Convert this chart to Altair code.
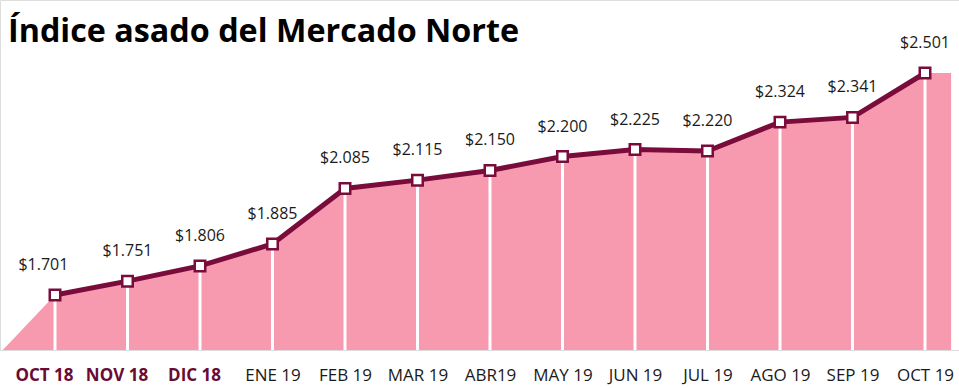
import json
import altair as alt
import pandas as pd

TITLE = "Índice asado del Mercado Norte"
MONTHS = ["OCT 18", "NOV 18", "DIC 18", "ENE 19", "FEB 19", "MAR 19", "ABR19",
          "MAY 19", "JUN 19", "JUL 19", "AGO 19", "SEP 19", "OCT 19"]
VALUES = [1701, 1751, 1806, 1885, 2085, 2115, 2150, 2200, 2225, 2220, 2324, 2341, 2501]
LABELS = ["$1.701", "$1.751", "$1.806", "$1.885", "$2.085", "$2.115", "$2.150",
          "$2.200", "$2.225", "$2.220", "$2.324", "$2.341", "$2.501"]
HIGHLIGHT_COUNT = 3  # first three month labels highlighted

Y_MIN, Y_MAX = 1503, 2764
X_MIN, X_MAX = -0.7586, 12.469
AREA_START, AREA_END = -0.72, 12.36

PINK = "#F79AB0"
MAROON = "#7A0C3C"
LABEL_MAROON = "#6B0A33"

df = pd.DataFrame({"i": list(range(len(VALUES))), "v": VALUES, "label": LABELS,
                   "month": MONTHS, "base": [Y_MIN] * len(VALUES)})
area_df = pd.concat([
    pd.DataFrame({"i": [AREA_START], "v": [Y_MIN]}),
    df[["i", "v"]],
    pd.DataFrame({"i": [AREA_END], "v": [VALUES[-1]]}),
], ignore_index=True)

xs = alt.Scale(domain=[X_MIN, X_MAX], nice=False, zero=False)
ys = alt.Scale(domain=[Y_MIN, Y_MAX], nice=False, zero=False)

label_expr = json.dumps(MONTHS) + "[datum.value]"

x_axis = alt.Axis(
    values=list(range(len(MONTHS))), labelExpr=label_expr, title=None,
    domain=False, ticks=False, grid=False, labelFont="Open Sans", labelFontSize=17,
    labelPadding=17, labelFlush=False, labelOverlap=False,
    labelColor={"condition": {"test": f"datum.value < {HIGHLIGHT_COUNT}", "value": LABEL_MAROON},
                "value": "#1a1a1a"},
    labelFontWeight={"condition": {"test": f"datum.value < {HIGHLIGHT_COUNT}", "value": "bold"},
                     "value": "normal"},
    labelOffset={"condition": [{"test": "datum.value < 2", "value": -11},
                               {"test": "datum.value == 2", "value": -6}],
                 "value": 0},
)

area = alt.Chart(area_df).mark_area(color=PINK, opacity=1).encode(
    x=alt.X("i:Q", scale=xs, axis=x_axis),
    y=alt.Y("v:Q", scale=ys, axis=None),
    y2=alt.Y2(datum=Y_MIN),
)

rules = alt.Chart(df).mark_rule(color="white", strokeWidth=3).encode(
    x=alt.X("i:Q", scale=xs),
    y=alt.Y("v:Q", scale=ys),
    y2="base:Q",
)

line = alt.Chart(df).mark_line(color=MAROON, strokeWidth=5).encode(
    x=alt.X("i:Q", scale=xs),
    y=alt.Y("v:Q", scale=ys),
)

points = alt.Chart(df).mark_point(shape="square", size=110, filled=True, fill="white",
                                   stroke=MAROON, strokeWidth=2.5, opacity=1).encode(
    x=alt.X("i:Q", scale=xs),
    y=alt.Y("v:Q", scale=ys),
)

texts = alt.Chart(df).transform_calculate(
    lx="datum.i == 0 ? datum.i - 0.16 : datum.i"
).mark_text(font="Open Sans", fontSize=16, color="#1a1a1a",
            baseline="alphabetic", dy=-25).encode(
    x=alt.X("lx:Q", scale=xs),
    y=alt.Y("v:Q", scale=ys),
    text="label:N",
)

title = alt.Chart(pd.DataFrame({"t": [TITLE]})).mark_text(
    font="Open Sans", fontSize=32.3, fontWeight="bold", color="#000000",
    align="left", baseline="alphabetic",
).encode(x=alt.value(8), y=alt.value(42), text="t:N")

chart = alt.layer(area, rules, line, points, texts, title).properties(
    width=959, height=350,
    padding={"left": 0, "top": 0, "right": 0, "bottom": 38},
    autosize=alt.AutoSizeParams(type="none"),
).configure_view(stroke=None).configure(background="white")

chart.save("out.html", embed_options={"renderer": "svg", "actions": False})
